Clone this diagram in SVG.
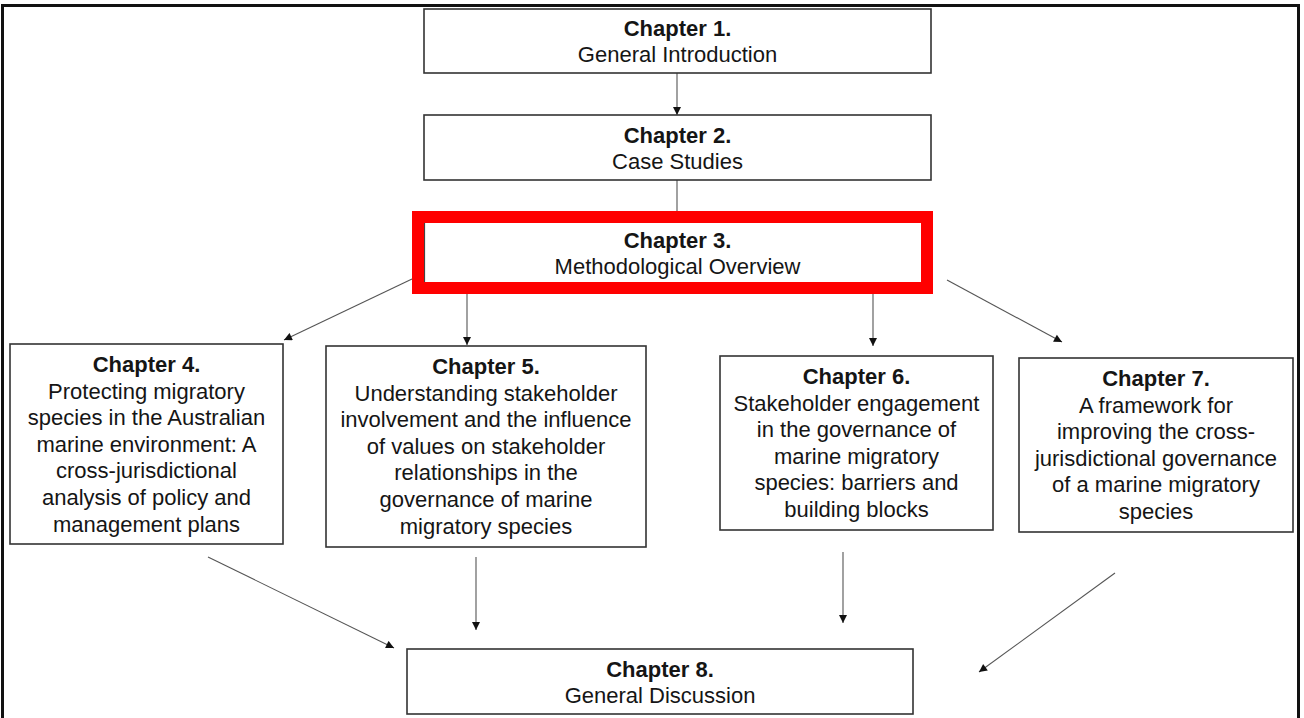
<svg xmlns="http://www.w3.org/2000/svg" width="1304" height="718" viewBox="0 0 1304 718">
  <defs>
    <style>
      .box { fill: #ffffff; stroke: #333333; stroke-width: 1.6; }
      .hl { fill: none; stroke: #ff0000; stroke-width: 12; }
      .t { font-family: "Liberation Sans", Arial, sans-serif; font-size: 22px; fill: #151515; text-anchor: middle; }
      .b { font-weight: bold; }
      .c { fill: none; stroke: #555555; stroke-width: 1.1; }
      .ca { marker-end: url(#arr); }
    </style>
    <marker id="arr" viewBox="0 0 10 10" refX="10" refY="5" markerUnits="userSpaceOnUse" markerWidth="9" markerHeight="8" orient="auto">
      <path d="M0,0 L10,5 L0,10 z" fill="#111111"/>
    </marker>
  </defs>

  <rect x="0" y="0" width="1304" height="718" fill="#ffffff"/>
  <!-- outer frame -->
  <rect x="2.5" y="5.5" width="1296" height="720" fill="none" stroke="#111111" stroke-width="3"/>

  <!-- connectors -->
  <g id="connectors">
    <line class="c ca" x1="677" y1="73" x2="677" y2="115"/>
    <line class="c" x1="677" y1="180" x2="677" y2="211"/>
    <line class="c ca" x1="412" y1="279" x2="284" y2="340"/>
    <line class="c ca" x1="467" y1="294" x2="467" y2="345"/>
    <line class="c ca" x1="873" y1="294" x2="873" y2="346"/>
    <line class="c ca" x1="947" y1="280" x2="1062" y2="342"/>
    <line class="c ca" x1="208" y1="557" x2="394" y2="648"/>
    <line class="c ca" x1="476" y1="557" x2="476" y2="630"/>
    <line class="c ca" x1="843" y1="552" x2="843" y2="623"/>
    <line class="c ca" x1="1115" y1="573" x2="979" y2="672"/>
  </g>

  <g id="ch1">
    <rect class="box" x="424" y="9" width="507" height="64"/>
    <text class="t b" x="677.5" y="36">Chapter 1.</text>
    <text class="t" x="677.5" y="62">General Introduction</text>
  </g>

  <g id="ch2">
    <rect class="box" x="424" y="115" width="507" height="65"/>
    <text class="t b" x="677.5" y="142.5">Chapter 2.</text>
    <text class="t" x="677.5" y="168.5">Case Studies</text>
  </g>

  <g id="ch3">
    <rect x="418" y="217" width="509" height="71" fill="#ffffff"/>
    <line x1="424.5" y1="223" x2="424.5" y2="282" stroke="#444444" stroke-width="1.2"/>
    <rect class="hl" x="418" y="217" width="509" height="71"/>
    <text class="t b" x="677.5" y="247.5">Chapter 3.</text>
    <text class="t" x="677.5" y="273.5">Methodological Overview</text>
  </g>

  <g id="ch4">
    <rect class="box" x="10" y="344" width="273" height="200"/>
    <text class="t b" x="146.5" y="372">Chapter 4.</text>
    <text class="t" x="146.5" y="398.6">Protecting migratory</text>
    <text class="t" x="146.5" y="425.2">species in the Australian</text>
    <text class="t" x="146.5" y="451.8">marine environment: A</text>
    <text class="t" x="146.5" y="478.4">cross-jurisdictional</text>
    <text class="t" x="146.5" y="505">analysis of policy and</text>
    <text class="t" x="146.5" y="531.6">management plans</text>
  </g>

  <g id="ch5">
    <rect class="box" x="326" y="346" width="320" height="201"/>
    <text class="t b" x="486" y="374">Chapter 5.</text>
    <text class="t" x="486" y="400.6">Understanding stakeholder</text>
    <text class="t" x="486" y="427.2">involvement and the influence</text>
    <text class="t" x="486" y="453.8">of values on stakeholder</text>
    <text class="t" x="486" y="480.4">relationships in the</text>
    <text class="t" x="486" y="507">governance of marine</text>
    <text class="t" x="486" y="533.6">migratory species</text>
  </g>

  <g id="ch6">
    <rect class="box" x="720" y="356" width="273" height="174"/>
    <text class="t b" x="856.5" y="384">Chapter 6.</text>
    <text class="t" x="856.5" y="410.6">Stakeholder engagement</text>
    <text class="t" x="856.5" y="437.2">in the governance of</text>
    <text class="t" x="856.5" y="463.8">marine migratory</text>
    <text class="t" x="856.5" y="490.4">species: barriers and</text>
    <text class="t" x="856.5" y="517">building blocks</text>
  </g>

  <g id="ch7">
    <rect class="box" x="1019" y="358" width="274" height="174"/>
    <text class="t b" x="1156" y="386">Chapter 7.</text>
    <text class="t" x="1156" y="412.6">A framework for</text>
    <text class="t" x="1156" y="439.2">improving the cross-</text>
    <text class="t" x="1156" y="465.8">jurisdictional governance</text>
    <text class="t" x="1156" y="492.4">of a marine migratory</text>
    <text class="t" x="1156" y="519">species</text>
  </g>

  <g id="ch8">
    <rect class="box" x="407" y="649" width="506" height="65"/>
    <text class="t b" x="660" y="676.5">Chapter 8.</text>
    <text class="t" x="660" y="702.5">General Discussion</text>
  </g>
</svg>
